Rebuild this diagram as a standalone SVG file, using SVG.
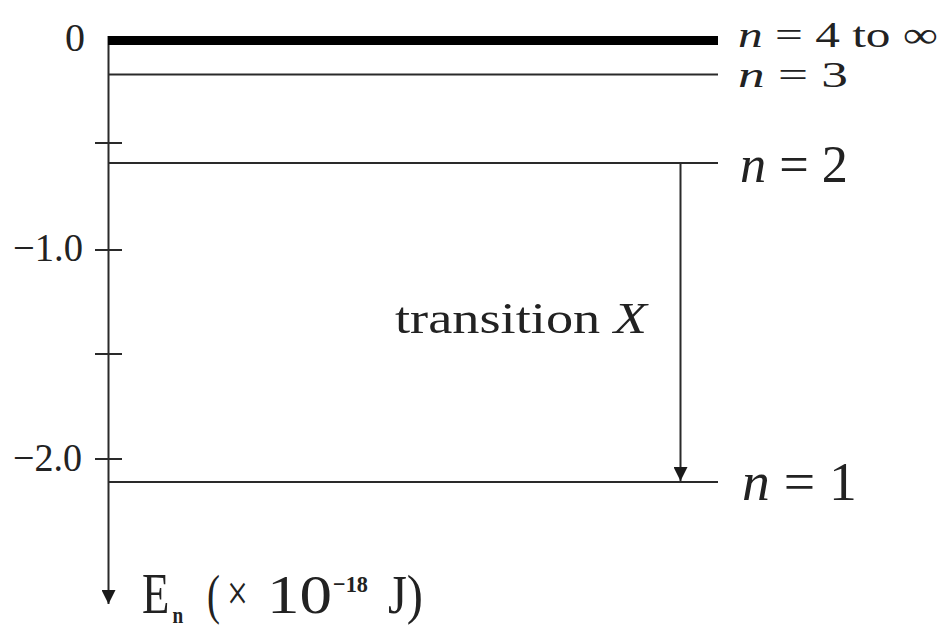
<svg xmlns="http://www.w3.org/2000/svg" width="943" height="627" viewBox="0 0 943 627">
  <style>
    .ln { stroke: #2a2a2a; stroke-width: 2; fill: none; }
    .t { font-family: "Liberation Serif", "Times New Roman", serif; fill: #222; }
    .it { font-style: italic; }
  </style>
  <defs>
    <marker id="ah" viewBox="0 0 14 14" refX="14" refY="7" markerWidth="14" markerHeight="14" markerUnits="userSpaceOnUse" orient="auto">
      <path d="M0,0 L14,7 L0,14 Z" fill="#1a1a1a"/>
    </marker>
  </defs>
  <rect width="943" height="627" fill="#ffffff"/>

  <g id="axis">
    <line class="ln" x1="108.5" y1="36" x2="108.5" y2="604" marker-end="url(#ah)"/>
    <line class="ln" x1="95" y1="143" x2="122" y2="143"/>
    <line class="ln" x1="95" y1="250" x2="122" y2="250"/>
    <line class="ln" x1="95" y1="354" x2="122" y2="354"/>
    <line class="ln" x1="95" y1="459" x2="122" y2="459"/>
    <text class="t" x="65" y="51" font-size="40" textLength="20" lengthAdjust="spacingAndGlyphs">0</text>
    <text class="t" x="13" y="261" font-size="40" textLength="70" lengthAdjust="spacingAndGlyphs">−1.0</text>
    <text class="t" x="13" y="471" font-size="40" textLength="69" lengthAdjust="spacingAndGlyphs">−2.0</text>
  </g>

  <g id="axis-label">
    <text class="t" transform="translate(142,613) scale(0.8,1)" x="0" y="0" font-size="56">E<tspan x="38" dy="10" font-size="24" font-weight="bold">n</tspan></text>
    <text class="t" x="207" y="613" font-size="54" textLength="13" lengthAdjust="spacingAndGlyphs">(</text>
    <text class="t" x="227" y="610" font-size="50" textLength="21" lengthAdjust="spacingAndGlyphs" fill="#555">×</text>
    <text class="t" x="267" y="613" font-size="54" textLength="65" lengthAdjust="spacingAndGlyphs">10</text>
    <text class="t" x="333" y="592" font-size="24" font-weight="bold" textLength="35" lengthAdjust="spacingAndGlyphs">−18</text>
    <text class="t" x="388" y="613" font-size="54" textLength="35" lengthAdjust="spacingAndGlyphs">J)</text>
  </g>

  <g id="level-n4">
    <rect x="108" y="36" width="610" height="9" fill="#000"/>
    <text class="t" x="738" y="47" font-size="36" textLength="200" lengthAdjust="spacingAndGlyphs"><tspan class="it">n</tspan> = 4 to ∞</text>
  </g>

  <g id="level-n3">
    <line class="ln" x1="108" y1="74.5" x2="718" y2="74.5"/>
    <text class="t" x="738" y="87" font-size="36" textLength="110" lengthAdjust="spacingAndGlyphs"><tspan class="it">n</tspan> = 3</text>
  </g>

  <g id="level-n2">
    <line class="ln" x1="108" y1="163" x2="718" y2="163"/>
    <text class="t" x="740" y="182" font-size="52" textLength="108" lengthAdjust="spacingAndGlyphs"><tspan class="it">n</tspan> = 2</text>
  </g>

  <g id="level-n1">
    <line class="ln" x1="108" y1="482" x2="718" y2="482"/>
    <text class="t" x="742" y="500" font-size="54" textLength="115" lengthAdjust="spacingAndGlyphs"><tspan class="it">n</tspan> = 1</text>
  </g>

  <g id="connectors">
    <line class="ln" x1="680.5" y1="163" x2="680.5" y2="481" marker-end="url(#ah)"/>
    <text class="t" x="395" y="333" font-size="44" textLength="252" lengthAdjust="spacingAndGlyphs">transition <tspan class="it">X</tspan></text>
  </g>
</svg>
